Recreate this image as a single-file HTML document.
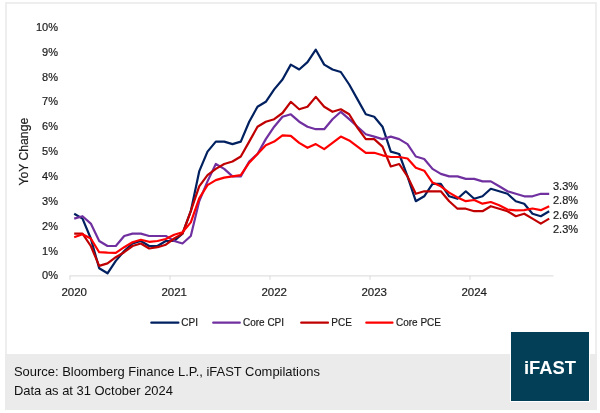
<!DOCTYPE html>
<html><head><meta charset="utf-8"><title>US Inflation</title>
<style>
html,body{margin:0;padding:0;background:#fff;}
body{width:600px;height:413px;position:relative;overflow:hidden;font-family:"Liberation Sans",sans-serif;}
#frame{position:absolute;left:5px;top:2px;width:592px;height:353px;border:2px solid #eeeeee;border-bottom:none;box-sizing:border-box;background:#fff;}
#foot{position:absolute;left:5.4px;top:354px;width:591.4px;height:55.8px;background:#ebebeb;}
#foot p{position:absolute;left:8.6px;margin:0;font-size:12.95px;color:#111;white-space:nowrap;line-height:15px;}
#logo{position:absolute;left:509.8px;top:330.8px;width:80.3px;height:71.3px;background:#fff;}
#logo div{position:absolute;left:0.9px;top:0.9px;right:0.9px;bottom:0.9px;background:#033f56;color:#fff;font-weight:bold;font-size:18.4px;line-height:72px;text-align:center;}
svg{position:absolute;left:0;top:0;}
svg text{font-family:"Liberation Sans",sans-serif;font-size:11px;fill:#1c1c1c;stroke:#1c1c1c;stroke-width:0.2px;}
.xl text{font-size:11.5px} .lg text{font-size:10.4px}
</style></head><body>
<div id="frame"></div>
<div id="foot"><p style="top:10px">Source: Bloomberg Finance L.P., iFAST Compilations</p><p style="top:29px">Data as at 31 October 2024</p></div>
<div id="logo"><div>iFAST</div></div>
<svg width="600" height="413" viewBox="0 0 600 413">
<path d="M69.5 275.9H553.5M70.0 275.9V279.8M170.0 275.9V279.8M270.0 275.9V279.8M370.0 275.9V279.8M470.0 275.9V279.8" stroke="#d9d9d9" stroke-width="1" fill="none"/>
<text x="58" y="279.4" text-anchor="end">0%</text>
<text x="58" y="254.6" text-anchor="end">1%</text>
<text x="58" y="229.7" text-anchor="end">2%</text>
<text x="58" y="204.8" text-anchor="end">3%</text>
<text x="58" y="180.0" text-anchor="end">4%</text>
<text x="58" y="155.2" text-anchor="end">5%</text>
<text x="58" y="130.3" text-anchor="end">6%</text>
<text x="58" y="105.4" text-anchor="end">7%</text>
<text x="58" y="80.6" text-anchor="end">8%</text>
<text x="58" y="55.8" text-anchor="end">9%</text>
<text x="58" y="30.9" text-anchor="end">10%</text>
<g class="xl"><text x="74.2" y="296.2" text-anchor="middle">2020</text>
<text x="174.2" y="296.2" text-anchor="middle">2021</text>
<text x="274.2" y="296.2" text-anchor="middle">2022</text>
<text x="374.2" y="296.2" text-anchor="middle">2023</text>
<text x="474.2" y="296.2" text-anchor="middle">2024</text></g>
<text transform="translate(27.9,151.7) rotate(-90) scale(1,1.12)" text-anchor="middle" style="font-size:12.2px">YoY Change</text>
<polyline points="74.2,213.7 82.5,218.6 90.8,238.5 99.2,268.3 107.5,273.3 115.8,260.9 124.2,251.0 132.5,243.5 140.8,241.0 149.2,246.0 157.5,246.0 165.8,241.0 174.2,241.0 182.5,233.6 190.8,211.2 199.2,171.4 207.5,151.6 215.8,141.6 224.2,141.6 232.5,144.1 240.8,141.6 249.2,121.7 257.5,106.8 265.8,101.8 274.2,89.4 282.5,79.5 290.8,64.6 299.2,69.5 307.5,62.1 315.8,49.7 324.2,64.6 332.5,69.5 340.8,72.0 349.2,84.5 357.5,99.4 365.8,114.3 374.2,116.8 382.5,126.7 390.8,151.6 399.2,154.0 407.5,176.4 415.8,201.2 424.2,196.3 432.5,183.9 440.8,183.9 449.2,196.3 457.5,198.8 465.8,191.3 474.2,198.8 482.5,196.3 490.8,188.8 499.2,191.3 507.5,193.8 515.8,201.2 524.2,203.7 532.5,213.7 540.8,216.2 549.2,211.2" fill="none" stroke="#002060" stroke-width="2.2" stroke-linejoin="round" stroke-linecap="butt"/>
<polyline points="74.2,218.6 82.5,216.2 90.8,223.6 99.2,241.0 107.5,246.0 115.8,246.0 124.2,236.0 132.5,233.6 140.8,233.6 149.2,236.0 157.5,236.0 165.8,236.0 174.2,241.0 182.5,243.5 190.8,236.0 199.2,201.2 207.5,181.4 215.8,164.0 224.2,168.9 232.5,176.4 240.8,176.4 249.2,161.5 257.5,154.0 265.8,139.1 274.2,126.7 282.5,116.8 290.8,114.3 299.2,121.7 307.5,126.7 315.8,129.2 324.2,129.2 332.5,119.2 340.8,111.8 349.2,119.2 357.5,126.7 365.8,134.2 374.2,136.6 382.5,139.1 390.8,136.6 399.2,139.1 407.5,144.1 415.8,156.5 424.2,159.0 432.5,168.9 440.8,173.9 449.2,176.4 457.5,176.4 465.8,178.9 474.2,178.9 482.5,181.4 490.8,181.4 499.2,186.3 507.5,191.3 515.8,193.8 524.2,196.3 532.5,196.3 540.8,193.8 549.2,193.8" fill="none" stroke="#7030a0" stroke-width="2.2" stroke-linejoin="round" stroke-linecap="butt"/>
<polyline points="74.2,233.6 82.5,233.6 90.8,246.0 99.2,265.9 107.5,263.4 115.8,257.2 124.2,252.2 132.5,246.0 140.8,243.5 149.2,248.5 157.5,247.2 165.8,244.7 174.2,238.5 182.5,233.6 190.8,211.2 199.2,186.3 207.5,175.2 215.8,168.9 224.2,164.0 232.5,161.5 240.8,156.5 249.2,141.6 257.5,126.7 265.8,121.7 274.2,119.2 282.5,113.0 290.8,101.8 299.2,109.3 307.5,106.8 315.8,96.9 324.2,106.8 332.5,111.8 340.8,109.3 349.2,114.3 357.5,127.9 365.8,139.1 374.2,139.1 382.5,146.6 390.8,166.5 399.2,164.0 407.5,176.4 415.8,193.8 424.2,191.3 432.5,191.3 440.8,191.3 449.2,201.2 457.5,208.7 465.8,208.7 474.2,211.2 482.5,211.2 490.8,206.2 499.2,208.7 507.5,211.2 515.8,216.2 524.2,213.7 532.5,218.6 540.8,223.6 549.2,218.6" fill="none" stroke="#c00000" stroke-width="2.2" stroke-linejoin="round" stroke-linecap="butt"/>
<polyline points="74.2,237.3 82.5,234.3 90.8,238.5 99.2,252.2 107.5,252.7 115.8,252.9 124.2,247.2 132.5,242.3 140.8,239.8 149.2,241.8 157.5,241.0 165.8,239.0 174.2,234.8 182.5,232.3 190.8,222.4 199.2,198.3 207.5,185.1 215.8,180.1 224.2,177.6 232.5,176.4 240.8,175.2 249.2,162.7 257.5,154.0 265.8,145.3 274.2,141.6 282.5,135.4 290.8,135.9 299.2,142.9 307.5,147.8 315.8,144.1 324.2,149.1 332.5,142.9 340.8,136.6 349.2,140.4 357.5,146.6 365.8,152.8 374.2,152.8 382.5,155.3 390.8,157.0 399.2,157.0 407.5,158.5 415.8,167.7 424.2,170.7 432.5,182.6 440.8,186.3 449.2,192.6 457.5,197.5 465.8,201.2 474.2,200.0 482.5,203.7 490.8,202.0 499.2,205.2 507.5,209.5 515.8,210.4 524.2,210.2 532.5,208.5 540.8,210.2 549.2,206.2" fill="none" stroke="#ff0000" stroke-width="2.2" stroke-linejoin="round" stroke-linecap="butt"/>
<g>
<text x="553" y="189.5">3.3%</text>
<text x="553" y="204">2.8%</text>
<text x="553" y="218.5">2.6%</text>
<text x="553" y="233.3">2.3%</text>
</g>
<g stroke-width="2.2" stroke-linecap="round">
<path d="M151.3 322.7H178.4" stroke="#002060"/>
<path d="M213.2 322.7H239.8" stroke="#7030a0"/>
<path d="M301.2 322.7H328" stroke="#c00000"/>
<path d="M366.3 322.7H392.5" stroke="#ff0000"/>
</g>
<g class="lg">
<text transform="translate(181.3,325.9) scale(0.96,1)">CPI</text>
<text transform="translate(243,325.9) scale(0.96,1)">Core CPI</text>
<text transform="translate(331.3,325.9) scale(0.96,1)">PCE</text>
<text transform="translate(396,325.9) scale(0.96,1)">Core PCE</text>
</g>
</svg>
</body></html>
